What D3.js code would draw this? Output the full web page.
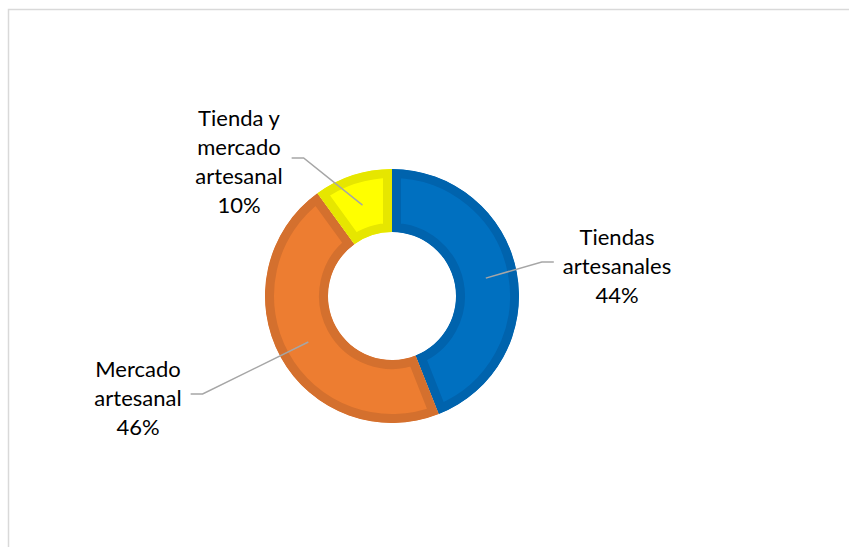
<!DOCTYPE html>
<html>
<head>
<meta charset="utf-8">
<script src="https://cdn.jsdelivr.net/npm/d3@7"></script>
<style>
  body { margin: 0; background: #fff; }
  svg { display: block; }
  .lbl { font-family: Lato, "Liberation Sans", sans-serif; font-size: 22px; fill: #000; }
</style>
</head>
<body>
<svg id="chart" width="849" height="547"></svg>
<script>
// data
const categories = ["Tiendas artesanales", "Mercado artesanal", "Tienda y mercado artesanal"];
const shares = [44, 46, 10];
const labelLines = [["Tiendas", "artesanales"], ["Mercado", "artesanal"], ["Tienda y", "mercado", "artesanal"]];

// look
const fills = ["#0070C0", "#ED7D31", "#FFFF00"];
const edges = ["#0063AD", "#D4702E", "#E6E600"];
// label block centres
const labelPos = [[617, 266], [138, 398], [239, 162]];
const labelSide = ["right", "left", "left"];

const svg = d3.select("#chart"),
  width = +svg.attr("width"),
  height = +svg.attr("height");

// chart area frame (runs off right/bottom like the source)
svg.append("rect")
  .attr("x", 8.5).attr("y", 9.5)
  .attr("width", width).attr("height", height)
  .attr("fill", "none")
  .attr("stroke", "#D9D9D9")
  .attr("stroke-width", 1.5);

const cx = 392, cy = 296,
  outerR = 127, innerR = 64, band = 9;

const pie = d3.pie().sort(null).value(d => d);
const arcs = pie(shares);
const arc = d3.arc().innerRadius(innerR).outerRadius(outerR);

const g = svg.append("g").attr("transform", "translate(" + cx + "," + cy + ")");
const defs = svg.append("defs");

arcs.forEach(function(a, i) {
  defs.append("clipPath").attr("id", "clip" + i)
    .append("path").attr("d", arc(a));
});

g.selectAll(".slice")
  .data(arcs)
  .enter().append("path")
  .attr("class", "slice")
  .attr("d", arc)
  .attr("clip-path", (d, i) => "url(#clip" + i + ")")
  .attr("fill", (d, i) => fills[i])
  .attr("stroke", (d, i) => edges[i])
  .attr("stroke-width", band * 2)
  .attr("stroke-linejoin", "miter");

// labels + leader lines
const lineH = 29;
arcs.forEach(function(a, i) {
  const c = arc.centroid(a);
  const lines = labelLines[i].concat([shares[i] + "%"]);
  const lx = labelPos[i][0], ly = labelPos[i][1];
  const top = ly - (lines.length * lineH) / 2;

  const t = svg.append("text").attr("class", "lbl").attr("text-anchor", "middle");
  lines.forEach(function(s, k) {
    t.append("tspan").attr("x", lx).attr("y", top + lineH * (k + 1) - 7).text(s);
  });

  const bb = t.node().getBBox();
  const ey = ly - 4;
  const ex = labelSide[i] === "right" ? bb.x - 9 : bb.x + bb.width + 9;
  const kx = labelSide[i] === "right" ? ex - 12 : ex + 12;
  svg.append("polyline")
    .attr("points", [[cx + c[0], cy + c[1]], [kx, ey], [ex, ey]].map(p => p.join(",")).join(" "))
    .attr("fill", "none")
    .attr("stroke", "#A6A6A6")
    .attr("stroke-width", 1.5);
});
</script>
</body>
</html>
